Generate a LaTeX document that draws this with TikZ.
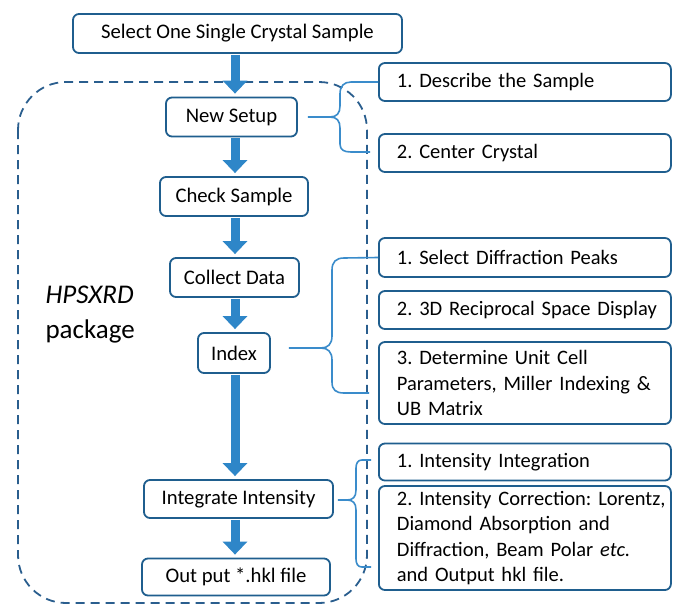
\documentclass[tikz,border=0pt]{standalone}
\usepackage{fontspec}
\setmainfont{Carlito}
\usetikzlibrary{arrows.meta,calc}
\definecolor{boxc}{HTML}{1F5E8E}
\definecolor{arrc}{HTML}{2E86C8}
\definecolor{brc}{HTML}{3A8CCB}
\definecolor{dashc}{HTML}{2A5E8E}
\frenchspacing
\begin{document}
\begin{tikzpicture}[x=1pt,y=-1pt,
  box/.style={draw=boxc,line width=1.8pt,rounded corners=6pt,fill=white,inner sep=0pt,font=\fontsize{20.7}{24}\selectfont},
  rbox/.style={box,anchor=west,minimum width=292pt,text width=256pt,align=left,inner xsep=18pt,font=\fontsize{20.5}{25.5}\selectfont},
  flow/.style={draw=arrc,line width=9pt,-{Triangle[width=24pt,length=13pt]},shorten >=3pt,shorten <=1pt},
  br/.style={draw=brc,line width=1.6pt},
  frame/.style={draw=dashc,line width=1.8pt,dash pattern=on 9pt off 6pt,rounded corners=48pt}]
\useasboundingbox (0,0) rectangle (673,605);
\fill[white] (0,0) rectangle (673,605);
% dashed package frame
\draw[frame] (18,82) rectangle (367,603);
% left flow boxes
\node[box,minimum width=329pt,minimum height=39pt] (sel) at (237.5,33.5) {Select One Single Crystal Sample};
\node[box,minimum width=131pt,minimum height=39pt] (ns) at (231.5,117) {New Setup};
\node[box,minimum width=148pt,minimum height=39pt] (cs) at (234,196.5) {Check Sample};
\node[box,minimum width=129pt,minimum height=39pt] (cd) at (234.5,277.5) {Collect Data};
\node[box,minimum width=72pt,minimum height=40pt] (idx) at (234,353) {Index};
\node[box,minimum width=189pt,minimum height=38pt] (ii) at (238.5,499) {Integrate Intensity};
\node[box,minimum width=188pt,minimum height=37pt] (out) at (236,577) {Out put *.hkl file};
% package label
\node[align=left,font=\fontsize{27}{35}\selectfont,anchor=west] (pkg) at (42,315) {\textit{HPSXRD}\\package};
% right boxes
\node[rbox,minimum height=38pt] (r1) at (378,82) {\mbox{1. Describe the Sample}};
\node[rbox,minimum height=38pt] (r2) at (378,153) {\mbox{2. Center Crystal}};
\node[rbox,minimum height=39pt] (r3) at (378,257.5) {\mbox{1. Select Diffraction Peaks}};
\node[rbox,minimum height=38pt] (r4) at (378,310) {\mbox{2. 3D Reciprocal Space Display}};
\node[rbox,minimum height=82pt] (r5) at (378,383) {\mbox{3. Determine Unit Cell}\\\mbox{Parameters, Miller Indexing \&}\\\mbox{UB Matrix}};
\node[rbox,minimum height=37pt] (r6) at (378,462) {\mbox{1. Intensity Integration}};
\node[rbox,minimum height=104pt] (r7) at (378,538) {\mbox{2. Intensity Correction: Lorentz,}\\\mbox{Diamond Absorption and}\\\mbox{Diffraction, Beam Polar \textit{etc.}}\\\mbox{and Output hkl file.}};
% flow arrows
\draw[flow] (sel.south -| 235,0) -- (ns.north -| 235,0);
\draw[flow] (ns.south -| 235,0) -- (cs.north -| 235,0);
\draw[flow] (cs.south -| 235,0) -- (cd.north -| 235,0);
\draw[flow] (cd.south -| 235,0) -- (idx.north -| 235,0);
\draw[flow] (idx.south -| 235,0) -- (ii.north -| 235,0);
\draw[flow] (ii.south -| 235,0) -- (out.north -| 235,0);
% braces
\draw[br] ($(ns.east)+(10,0)$) -- (330,117) .. controls (337,117) and (340,113) .. (340,106) -- (340,94) .. controls (340,86) and (344,82) .. (351,82) -- (r1.west);
\draw[br] (330,117) .. controls (337,117) and (340,121) .. (340,128) -- (340,144) .. controls (340,150) and (344,152) .. (351,152) -- (370,152);
\draw[br] ($(idx.east)+(18,-5)$) -- (321,348) .. controls (328,348) and (332,344) .. (332,336) -- (332,270) .. controls (332,262) and (336,258) .. (344,258) -- (r3.west);
\draw[br] (321,348) .. controls (328,348) and (332,352) .. (332,360) -- (332,382) .. controls (332,390) and (336,393) .. (344,393) -- (369,393);
\draw[br] ($(ii.east)+(4,1)$) -- (347,500) .. controls (353,500) and (356,497) .. (356,490) -- (356,468) .. controls (356,463) and (358,460) .. (362,460) -- (371,460);
\draw[br] (347,500) .. controls (353,500) and (356,503) .. (356,510) -- (356,559) .. controls (356,564) and (358,567) .. (362,567) -- (371,567);
\end{tikzpicture}
\end{document}
